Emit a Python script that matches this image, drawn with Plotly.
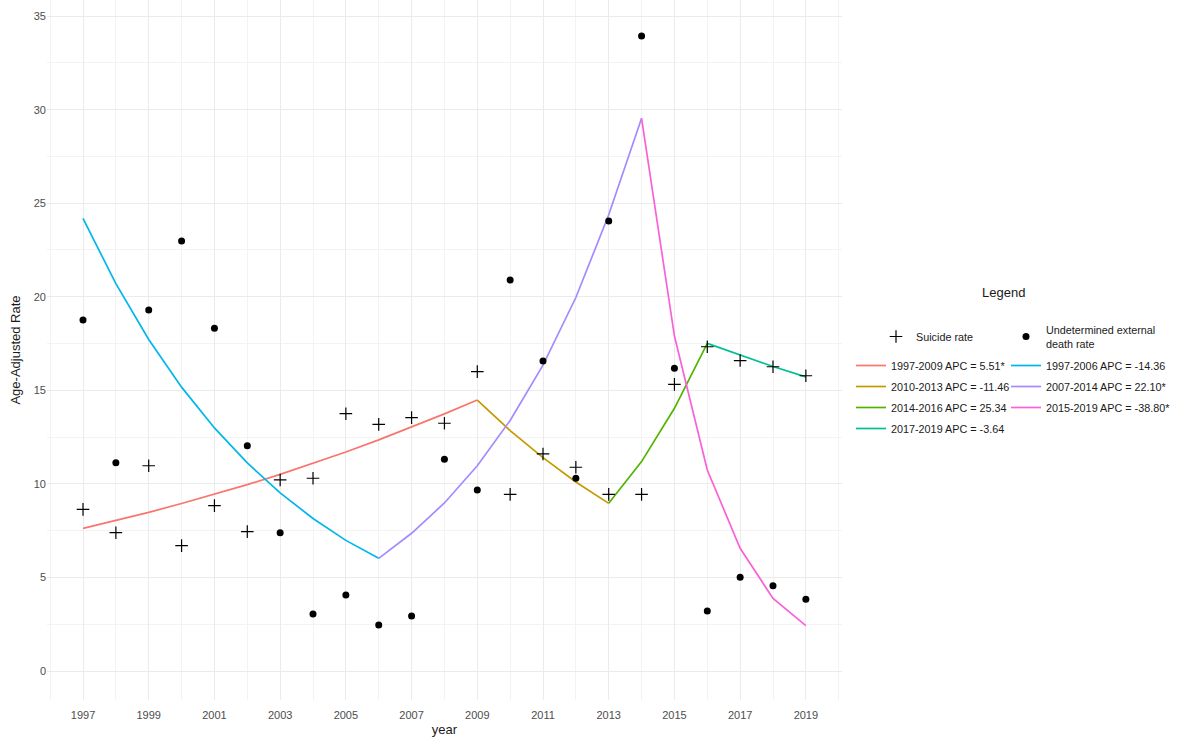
import plotly.graph_objects as go

years = list(range(1997, 2020))
suicide_rate = [8.64, 7.39, 10.97, 6.70, 8.84, 7.45, 10.21, 10.30, 13.75, 13.18, 13.54, 13.24,
                16.00, 9.44, 11.60, 10.89, 9.44, 9.44, 15.32, 17.33, 16.59, 16.26, 15.78]
undetermined_rate = [18.76, 11.13, 19.29, 22.98, 18.32, 12.04, 7.39, 3.05, 4.06, 2.46, 2.94, 11.31,
                     9.67, 20.90, 16.57, 10.30, 24.05, 33.94, 16.18, 3.21, 5.01, 4.56, 3.83]

# Joinpoint fitted segments
seg_red_years = list(range(1997, 2010))
seg_red_vals = [7.62, 8.04, 8.48, 8.95, 9.44, 9.96, 10.51, 11.09, 11.70, 12.35, 13.03, 13.74, 14.48]
seg_olive_years = list(range(2009, 2014))
seg_olive_vals = [14.48, 12.85, 11.40, 10.10, 8.96]
seg_green_years = list(range(2013, 2017))
seg_green_vals = [8.96, 11.19, 14.04, 17.51]
seg_teal_years = list(range(2016, 2020))
seg_teal_vals = [17.51, 16.88, 16.27, 15.72]
seg_cyan_years = list(range(1997, 2007))
seg_cyan_vals = [24.19, 20.70, 17.72, 15.17, 12.99, 11.12, 9.52, 8.15, 6.98, 6.02]
seg_purple_years = list(range(2006, 2015))
seg_purple_vals = [6.02, 7.36, 8.98, 10.97, 13.39, 16.35, 19.96, 24.38, 29.54]
seg_pink_years = list(range(2014, 2020))
seg_pink_vals = [29.54, 17.90, 10.74, 6.56, 3.88, 2.42]

x_ticks = list(range(1997, 2020, 2))
y_ticks = [0, 5, 10, 15, 20, 25, 30, 35]

segments = [
    ("1997-2009 APC = 5.51*", seg_red_years, seg_red_vals, "#F8766D", "legend3"),
    ("2010-2013 APC = -11.46", seg_olive_years, seg_olive_vals, "#C49A00", "legend3"),
    ("2014-2016 APC = 25.34", seg_green_years, seg_green_vals, "#53B400", "legend3"),
    ("2017-2019 APC = -3.64", seg_teal_years, seg_teal_vals, "#00C094", "legend3"),
    ("1997-2006 APC = -14.36", seg_cyan_years, seg_cyan_vals, "#00B6EB", "legend4"),
    ("2007-2014 APC = 22.10*", seg_purple_years, seg_purple_vals, "#A58AFF", "legend4"),
    ("2015-2019 APC = -38.80*", seg_pink_years, seg_pink_vals, "#FB61D7", "legend4"),
]

fig = go.Figure()
for i, (name, xs, ys, col, lg) in enumerate(segments):
    fig.add_trace(go.Scatter(x=xs, y=ys, mode="lines", name=name, legendgroup="g%d" % i,
                             line=dict(color=col, width=1.7), legend=lg))

fig.add_trace(go.Scatter(x=years, y=suicide_rate, mode="markers", name="Suicide rate",
                         marker=dict(symbol="cross-thin", size=9, color="black",
                                     line=dict(color="black", width=1.2)),
                         legend="legend"))
fig.add_trace(go.Scatter(x=years, y=undetermined_rate, mode="markers",
                         name="Undetermined external<br>death rate",
                         marker=dict(symbol="circle", size=7, color="black"),
                         legend="legend2"))

L, R, T, B = 47, 340, 0, 42
W, H = 1182, 742
pw = W - L - R
ph = H - T - B

def px_x(p):
    return (p - L) / pw

def px_y(p):
    return (H - B - p) / ph

leg_font = dict(family="Liberation Sans, Arial, sans-serif", size=10.8, color="#1A1A1A")

def leg(x, y, gap=0):
    return dict(x=px_x(x), y=px_y(y), bgcolor="rgba(0,0,0,0)", borderwidth=0,
                tracegroupgap=gap, font=leg_font, xanchor="left", yanchor="top",
                orientation="v")

fig.update_layout(
    width=W, height=H,
    margin=dict(l=L, r=R, t=T, b=B, autoexpand=False),
    plot_bgcolor="white", paper_bgcolor="white",
    font=dict(family="Liberation Sans, Arial, sans-serif"),
    showlegend=True,
    legend=leg(876, 322),
    legend2=leg(1006, 316),
    legend3=leg(851, 351, gap=2),
    legend4=leg(1006, 351, gap=2),
    xaxis=dict(range=[1995.904, 2020.1], tickmode="array", tickvals=x_ticks,
               ticktext=[str(v) for v in x_ticks], automargin=False,
               showgrid=True, gridcolor="#EBEBEB", gridwidth=1, zeroline=False,
               showline=False, ticks="", ticklabelstandoff=7,
               tickfont=dict(size=11, color="#4D4D4D"),
               minor=dict(tick0=1996, dtick=1, showgrid=True, gridcolor="#F3F3F3", gridwidth=1),
               title=dict(text="year", font=dict(size=13, color="#1A1A1A"), standoff=4)),
    yaxis=dict(range=[-1.55, 35.86], tickmode="array", tickvals=y_ticks,
               ticktext=[str(v) for v in y_ticks], automargin=False,
               showgrid=True, gridcolor="#EBEBEB", gridwidth=1, zeroline=False,
               showline=False, ticks="",
               tickfont=dict(size=11, color="#4D4D4D"),
               minor=dict(tick0=2.5, dtick=5, showgrid=True, gridcolor="#F3F3F3", gridwidth=1),
               title=dict(text="Age-Adjusted Rate", font=dict(size=13, color="#1A1A1A"), standoff=10)),
    annotations=[dict(text="Legend", x=px_x(1003), y=px_y(292), xref="paper", yref="paper",
                      showarrow=False, xanchor="center", yanchor="middle",
                      font=dict(size=13, color="#1A1A1A"))],
)

fig.write_html("out.html", config={"displayModeBar": False},
               post_script="document.body.style.margin='0';")
